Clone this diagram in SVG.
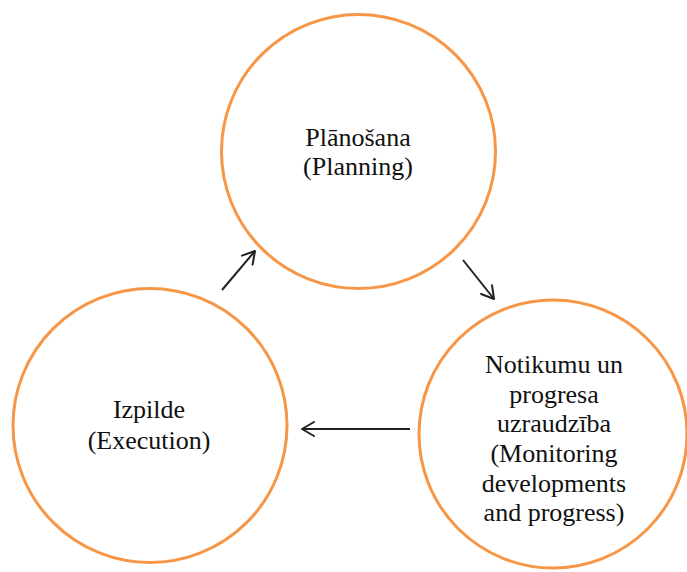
<svg xmlns="http://www.w3.org/2000/svg" width="687" height="572" viewBox="0 0 687 572">
<style>
.node circle{fill:#fff;stroke:#F79646;stroke-width:3}
.node text{font-family:'Liberation Serif',serif;font-size:26px;fill:#111;text-anchor:middle}
.conn line{stroke:#222;stroke-width:2}
</style>
<defs>
<marker id="arr" viewBox="0 0 16 16" refX="14" refY="8" markerWidth="16" markerHeight="16" markerUnits="userSpaceOnUse" orient="auto">
<path d="M2,1 L14,8 L2,15" fill="none" stroke="#222" stroke-width="2" stroke-linecap="round" stroke-linejoin="round"/>
</marker>
</defs>
<rect width="687" height="572" fill="#fff"/>
<g id="planning" class="node">
<circle cx="358.5" cy="151.5" r="137"/>
<text x="358" y="146">Plānošana</text>
<text x="358" y="175">(Planning)</text>
</g>
<g id="monitoring" class="node">
<circle cx="553" cy="434" r="134"/>
<text x="554" y="373">Notikumu un</text>
<text x="554" y="403">progresa</text>
<text x="554" y="432">uzraudzība</text>
<text x="554" y="462">(Monitoring</text>
<text x="554" y="492">developments</text>
<text x="554" y="521">and progress)</text>
</g>
<g id="execution" class="node">
<circle cx="150" cy="425.5" r="137"/>
<text x="149" y="418">Izpilde</text>
<text x="149" y="449">(Execution)</text>
</g>
<g id="connectors" class="conn">
<line x1="222" y1="290" x2="255" y2="251" marker-end="url(#arr)"/>
<line x1="463" y1="260" x2="494" y2="299" marker-end="url(#arr)"/>
<line x1="410" y1="429" x2="302" y2="429" marker-end="url(#arr)"/>
</g>
</svg>
